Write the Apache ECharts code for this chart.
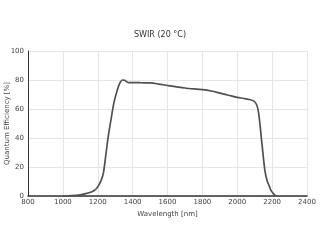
<!DOCTYPE html>
<html><head><meta charset="utf-8">
<script src="https://cdn.jsdelivr.net/npm/echarts@6/dist/echarts.min.js"></script>
<style>html,body{margin:0;padding:0;background:#fff}#c{width:320px;height:240px}</style>
</head><body><div id="c"></div>
<script>
const wavelengths = [1000,1050,1100,1150,1180,1200,1220,1232,1245,1260,1275,1289,1300,1312,1325,1342,1355,1375,1400,1450,1500,1550,1600,1700,1800,1850,1900,1950,2000,2050,2100,2120,2139,2158,2170,2183,2195,2206,2218,2228];
const qe = [0,0.2,0.8,2.2,3.8,6.3,11,15.6,27,41,52,62,68,73,77.5,80,79.8,78.2,78.2,78.1,78,77.2,76.2,74.5,73.3,72.4,71,69.5,68,67,65,59,39,18,11,7,3.5,1.8,0.4,0];
const title = 'SWIR (20 °C)';
const xName = 'Wavelength [nm]';
const yName = 'Quantum Efficiency [%]';
const F = 'DejaVu Sans';
const chart = echarts.init(document.getElementById('c'), null, {renderer:'canvas'});
chart.setOption({
  backgroundColor:'#fff',
  animation:false,
  title:{text:title,left:'center',top:26,textStyle:{fontFamily:F,fontSize:8,fontWeight:'normal',color:'#333'}},
  grid:{left:28,right:13,top:51,bottom:44,containLabel:false,outerBoundsMode:'none'},
  xAxis:{type:'value',min:800,max:2400,interval:200,name:xName,nameLocation:'middle',nameGap:14,
    nameTextStyle:{fontFamily:F,fontSize:7,color:'#444'},
    axisLine:{show:true,onZero:false,lineStyle:{color:'#333',width:1.5}},
    axisTick:{show:false},
    axisLabel:{fontFamily:F,fontSize:7,color:'#444',margin:3,formatter:v=>String(v)},
    splitLine:{show:true,lineStyle:{color:'#e6e6e6',width:1}}},
  yAxis:{type:'value',min:0,max:100,interval:20,name:yName,nameLocation:'middle',nameGap:17,nameMoveOverlap:false,
    nameTextStyle:{fontFamily:F,fontSize:7,color:'#444'},
    axisLine:{show:true,lineStyle:{color:'#333',width:1}},
    axisTick:{show:false},
    axisLabel:{fontFamily:F,fontSize:7,color:'#444',margin:4,formatter:v=>String(v)},
    splitLine:{show:true,lineStyle:{color:'#e6e6e6',width:1}}},
  series:[{type:'line',data:wavelengths.map((w,i)=>[w,qe[i]]),smooth:0.3,showSymbol:false,
    lineStyle:{color:'#505050',width:1.7}}]
});
</script></body></html>
